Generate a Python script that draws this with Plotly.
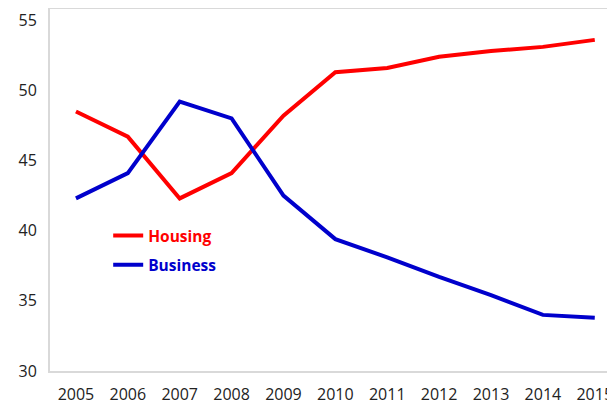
import plotly.graph_objects as go

years = [2005, 2006, 2007, 2008, 2009, 2010, 2011, 2012, 2013, 2014, 2015]
housing = [48.5, 46.7, 42.3, 44.1, 48.2, 51.3, 51.6, 52.4, 52.8, 53.1, 53.6]
business = [42.3, 44.1, 49.2, 48.0, 42.5, 39.4, 38.1, 36.7, 35.4, 34.0, 33.8]
y_ticks = [30, 35, 40, 45, 50, 55]

fig = go.Figure()
fig.add_trace(go.Scatter(x=years, y=housing, mode="lines", legendgroup="a",
                         name="<b><span style='color:#ff0000'>Housing</span></b>",
                         line=dict(color="#ff0000", width=4)))
fig.add_trace(go.Scatter(x=years, y=business, mode="lines", legendgroup="b",
                         name="<b><span style='color:#0000cc'>Business</span></b>",
                         line=dict(color="#0000cc", width=4)))

# page body has an 8px margin, so the figure is sized/offset to compensate
fig.update_layout(
    width=607, height=397,
    margin=dict(l=42, r=0, t=1, b=34),
    paper_bgcolor="white", plot_bgcolor="white",
    font=dict(family="Open Sans", size=16, color="#222222"),
    showlegend=True,
    legend=dict(x=0.103, y=0.42, xanchor="left", yanchor="top",
                bgcolor="rgba(0,0,0,0)", font=dict(size=15.5),
                itemwidth=30, tracegroupgap=6),
    xaxis=dict(range=[2004.5, 2015.39], tickmode="array", tickvals=years,
               ticktext=[str(y) for y in years], showgrid=False, zeroline=False,
               showline=True, linecolor="#d9d9d9", linewidth=2, mirror=True,
               ticks="outside", ticklen=8, tickcolor="rgba(0,0,0,0)"),
    yaxis=dict(range=[30, 55.8], tickmode="array", tickvals=y_ticks,
               showgrid=False, zeroline=False, showline=True,
               linecolor="#d9d9d9", linewidth=2,
               ticks="outside", ticklen=8, tickcolor="rgba(0,0,0,0)"),
)

fig.write_html("out.html")
